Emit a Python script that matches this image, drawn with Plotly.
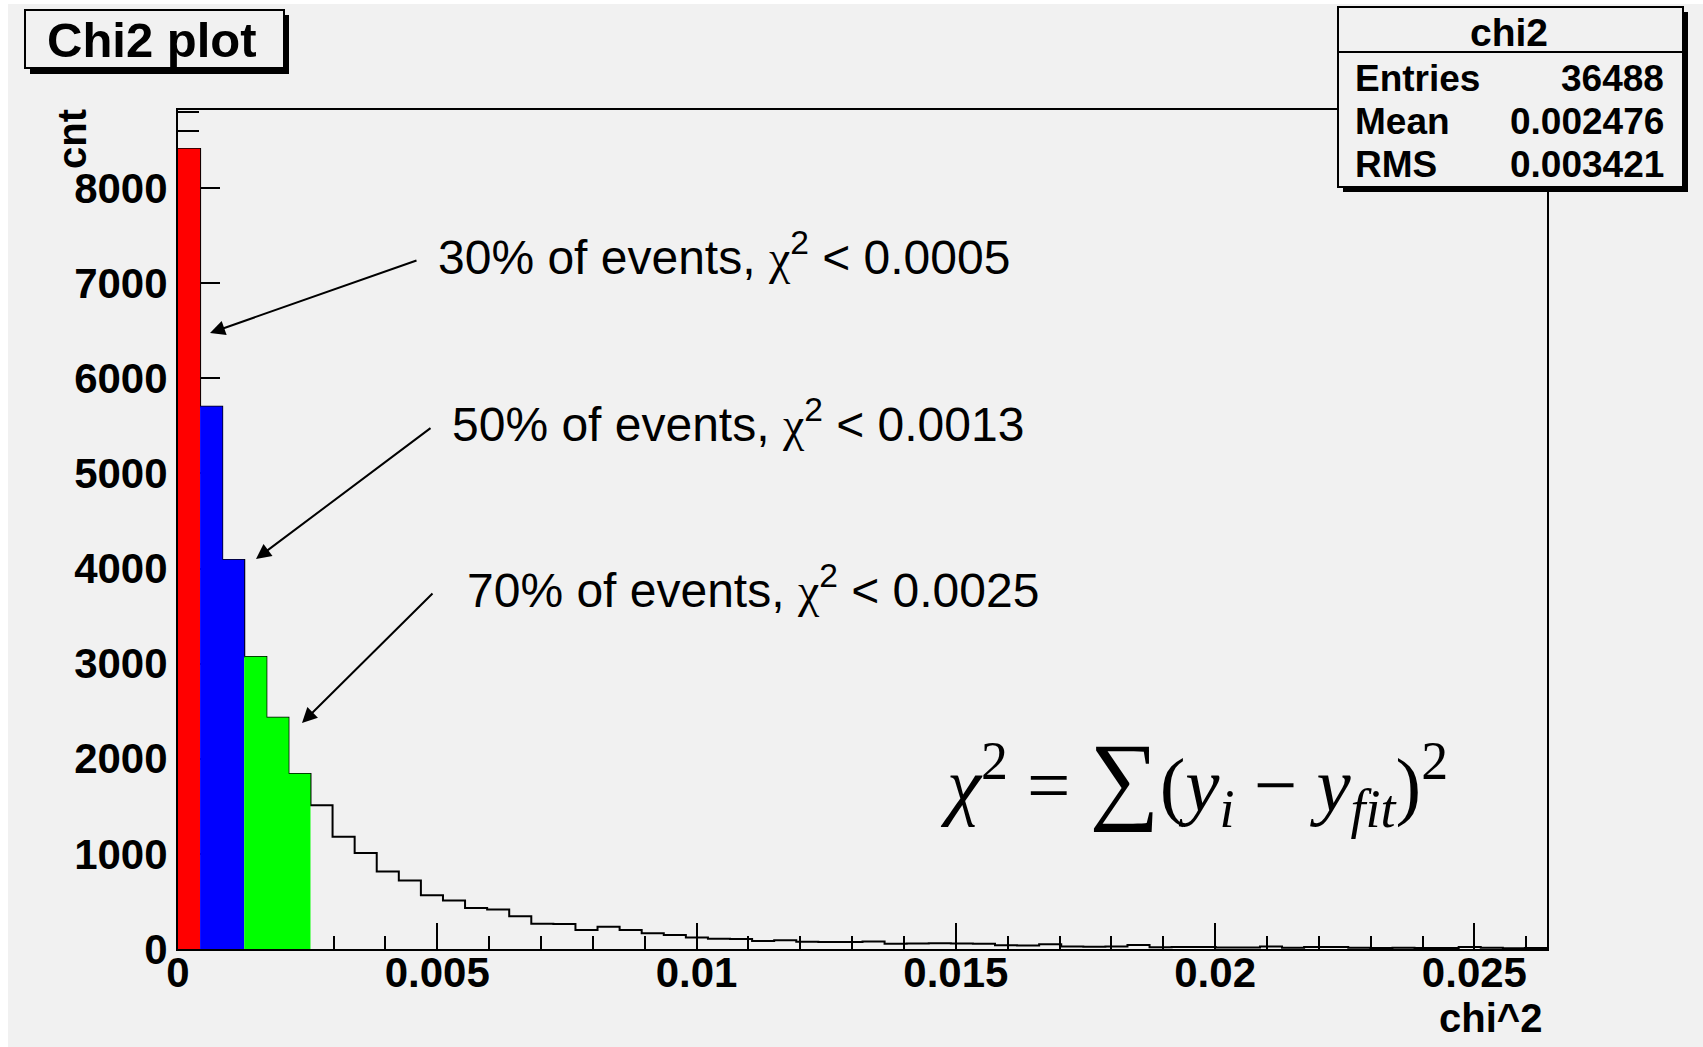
import numpy as np
import plotly.graph_objects as go

# ---------------- data ----------------
x_min, x_max, n_bins = 0.0, 0.0264, 62
counts = [8410, 5700, 4090, 3070, 2430, 1840, 1510, 1180, 1010, 815,
          720, 565, 510, 430, 415, 345, 265, 262, 200, 235,
          200, 165, 148, 120, 108, 105, 85, 92, 75, 74,
          74, 80, 55, 58, 60, 57, 55, 40, 38, 50,
          25, 24, 26, 42, 18, 20, 22, 16, 15, 25,
          14, 22, 22, 12, 10, 12, 10, 11, 22, 12,
          8, 10]
# highlighted bin ranges [start, stop)
region_bins = [(0, 1), (1, 3), (3, 6)]
region_labels = ["30% of events, <span style=\"font-family:'Liberation Serif'\">χ</span><sup>2</sup> &lt; 0.0005",
                 "50% of events, <span style=\"font-family:'Liberation Serif'\">χ</span><sup>2</sup> &lt; 0.0013",
                 "70% of events, <span style=\"font-family:'Liberation Serif'\">χ</span><sup>2</sup> &lt; 0.0025"]
x_tickvals = [0, 0.005, 0.01, 0.015, 0.02, 0.025]
x_ticktext = ["0", "0.005", "0.01", "0.015", "0.02", "0.025"]
y_tickvals = [0, 1000, 2000, 3000, 4000, 5000, 6000, 7000, 8000]
y_ticktext = ["0", "1000", "2000", "3000", "4000", "5000", "6000", "7000", "8000"]
stats_name = "chi2"
stats_rows = [("Entries", "36488"), ("Mean", "0.002476"), ("RMS", "0.003421")]
title_text = "Chi2 plot"
formula_text = ("<i>χ</i><sup>2</sup> = <span style=\"font-size:98px\">∑</span>"
                "(<i>y<sub>i</sub></i>\u00a0−\u00a0<i>y<sub>fit</sub></i>)<sup>2</sup>")

# ---------------- styles / layout ----------------
W, H = 1703, 1047
L, R, T, B = 178, 156, 110, 98
PW, PH = W - L - R, H - T - B
BG = "#f1f1f1"
region_colors = ["#ff0000", "#0000ff", "#00ff00"]
SANS = "Liberation Sans"
SERIF = "Liberation Serif"


def px(xp):
    return (xp - L) / PW


def py(yp):
    return (H - B - yp) / PH


edges = np.linspace(x_min, x_max, n_bins + 1)

fig = go.Figure()

# outline histogram (step)
xs = [edges[0]] + list(edges[:-1]) + [edges[-1], edges[-1]]
ys = [0] + list(counts) + [counts[-1], 0]
fig.add_trace(go.Scatter(x=xs, y=ys, mode="lines",
                         line=dict(color="black", width=2, shape="hv"),
                         hoverinfo="skip", showlegend=False))

# coloured regions
for (a, b), col in zip(region_bins, region_colors):
    rx = list(edges[a:b]) + [edges[b]]
    ry = list(counts[a:b]) + [counts[b - 1]]
    fig.add_trace(go.Scatter(x=rx, y=ry, mode="lines", fill="tozeroy",
                             fillcolor=col,
                             line=dict(color=col, width=0.5, shape="hv"),
                             hoverinfo="skip", showlegend=False))

shapes = []
annotations = []

# edge strips (white border of canvas)
shapes.append(dict(type="rect", xref="paper", yref="paper", x0=px(0), x1=px(W), y0=py(0), y1=py(4),
                   fillcolor="white", line=dict(width=0), layer="above"))
shapes.append(dict(type="rect", xref="paper", yref="paper", x0=px(0), x1=px(8), y0=py(0), y1=py(H),
                   fillcolor="white", line=dict(width=0), layer="above"))

# title box with shadow
shapes.append(dict(type="rect", xref="paper", yref="paper", x0=px(30), x1=px(289), y0=py(15), y1=py(74),
                   fillcolor="black", line=dict(width=0)))
shapes.append(dict(type="rect", xref="paper", yref="paper", x0=px(25), x1=px(284), y0=py(10), y1=py(68),
                   fillcolor=BG, line=dict(color="black", width=2)))
annotations.append(dict(xref="paper", yref="paper", x=px(152), y=py(40), text="<b>%s</b>" % title_text,
                        showarrow=False, xanchor="center", yanchor="middle",
                        font=dict(family=SANS, size=49, color="black")))

# stats box with shadow
shapes.append(dict(type="rect", xref="paper", yref="paper", x0=px(1343), x1=px(1688), y0=py(12), y1=py(192),
                   fillcolor="black", line=dict(width=0)))
shapes.append(dict(type="rect", xref="paper", yref="paper", x0=px(1338), x1=px(1683), y0=py(7), y1=py(187),
                   fillcolor=BG, line=dict(color="black", width=2)))
shapes.append(dict(type="line", xref="paper", yref="paper", x0=px(1338), x1=px(1683), y0=py(52), y1=py(52),
                   line=dict(color="black", width=2)))
annotations.append(dict(xref="paper", yref="paper", x=px(1509), y=py(32), text="<b>%s</b>" % stats_name,
                        showarrow=False, xanchor="center", yanchor="middle",
                        font=dict(family=SANS, size=39, color="black")))
for i, (lab, val) in enumerate(stats_rows):
    yc = 79 + i * 43
    annotations.append(dict(xref="paper", yref="paper", x=px(1353), y=py(yc), text="<b>%s</b>" % lab,
                            showarrow=False, xanchor="left", yanchor="middle",
                            font=dict(family=SANS, size=37, color="black")))
    annotations.append(dict(xref="paper", yref="paper", x=px(1666), y=py(yc), text="<b>%s</b>" % val,
                            showarrow=False, xanchor="right", yanchor="middle",
                            font=dict(family=SANS, size=37, color="black")))

# axis titles
annotations.append(dict(xref="paper", yref="paper", x=px(72), y=py(107), text="<b>cnt</b>",
                        textangle=-90, showarrow=False, xanchor="center", yanchor="top",
                        font=dict(family=SANS, size=40, color="black")))
annotations.append(dict(xref="paper", yref="paper", x=px(1544), y=py(1018), text="<b>chi^2</b>",
                        showarrow=False, xanchor="right", yanchor="middle",
                        font=dict(family=SANS, size=40, color="black")))

# arrows + labels
arrow_heads = [(210, 333), (256, 559), (302, 723)]
arrow_tails = [(418, 260), (432, 427), (434, 592)]
label_pos = [(436, 254), (450, 421), (465, 587)]
for (hx, hy), (tx, ty), (lx, ly), txt in zip(arrow_heads, arrow_tails, label_pos, region_labels):
    annotations.append(dict(xref="paper", yref="paper", x=px(hx), y=py(hy), text="",
                            showarrow=True, ax=tx - hx, ay=ty - hy, axref="pixel", ayref="pixel",
                            arrowhead=2, arrowsize=1.5, arrowwidth=2, arrowcolor="black", standoff=0))
    annotations.append(dict(xref="paper", yref="paper", x=px(lx), y=py(ly), text=txt,
                            showarrow=False, xanchor="left", yanchor="middle",
                            font=dict(family=SANS, size=48, color="black")))

# formula
annotations.append(dict(xref="paper", yref="paper", x=px(938), y=py(781),
                        text=formula_text,
                        showarrow=False, xanchor="left", yanchor="middle",
                        font=dict(family=SERIF, size=77, color="black")))

tickfont = dict(family=SANS, size=42, color="black", weight="bold")

fig.update_layout(
    width=W, height=H,
    margin=dict(l=L, r=R, t=T, b=B, pad=0),
    paper_bgcolor=BG, plot_bgcolor=BG,
    showlegend=False,
    shapes=shapes, annotations=annotations,
    xaxis=dict(range=[x_min, x_max], tickvals=x_tickvals, ticktext=x_ticktext,
               ticks="inside", ticklen=26, tickwidth=2, tickcolor="black",
               minor=dict(dtick=0.001, tick0=0, ticks="inside", ticklen=13, tickwidth=2, tickcolor="black",
                          showgrid=False),
               showline=True, linecolor="black", linewidth=2, mirror=True, layer="below traces",
               showgrid=False, zeroline=False, tickfont=tickfont, ticklabelstandoff=-14),
    yaxis=dict(range=[0, 8820], tickvals=y_tickvals, ticktext=y_ticktext,
               ticks="inside", ticklen=42, tickwidth=2, tickcolor="black",
               minor=dict(dtick=200, tick0=0, ticks="inside", ticklen=21, tickwidth=2, tickcolor="black",
                          showgrid=False),
               showline=True, linecolor="black", linewidth=2, mirror=True, layer="below traces",
               showgrid=False, zeroline=False, tickfont=tickfont, ticklabelstandoff=0),
)

fig.write_html("out.html")
